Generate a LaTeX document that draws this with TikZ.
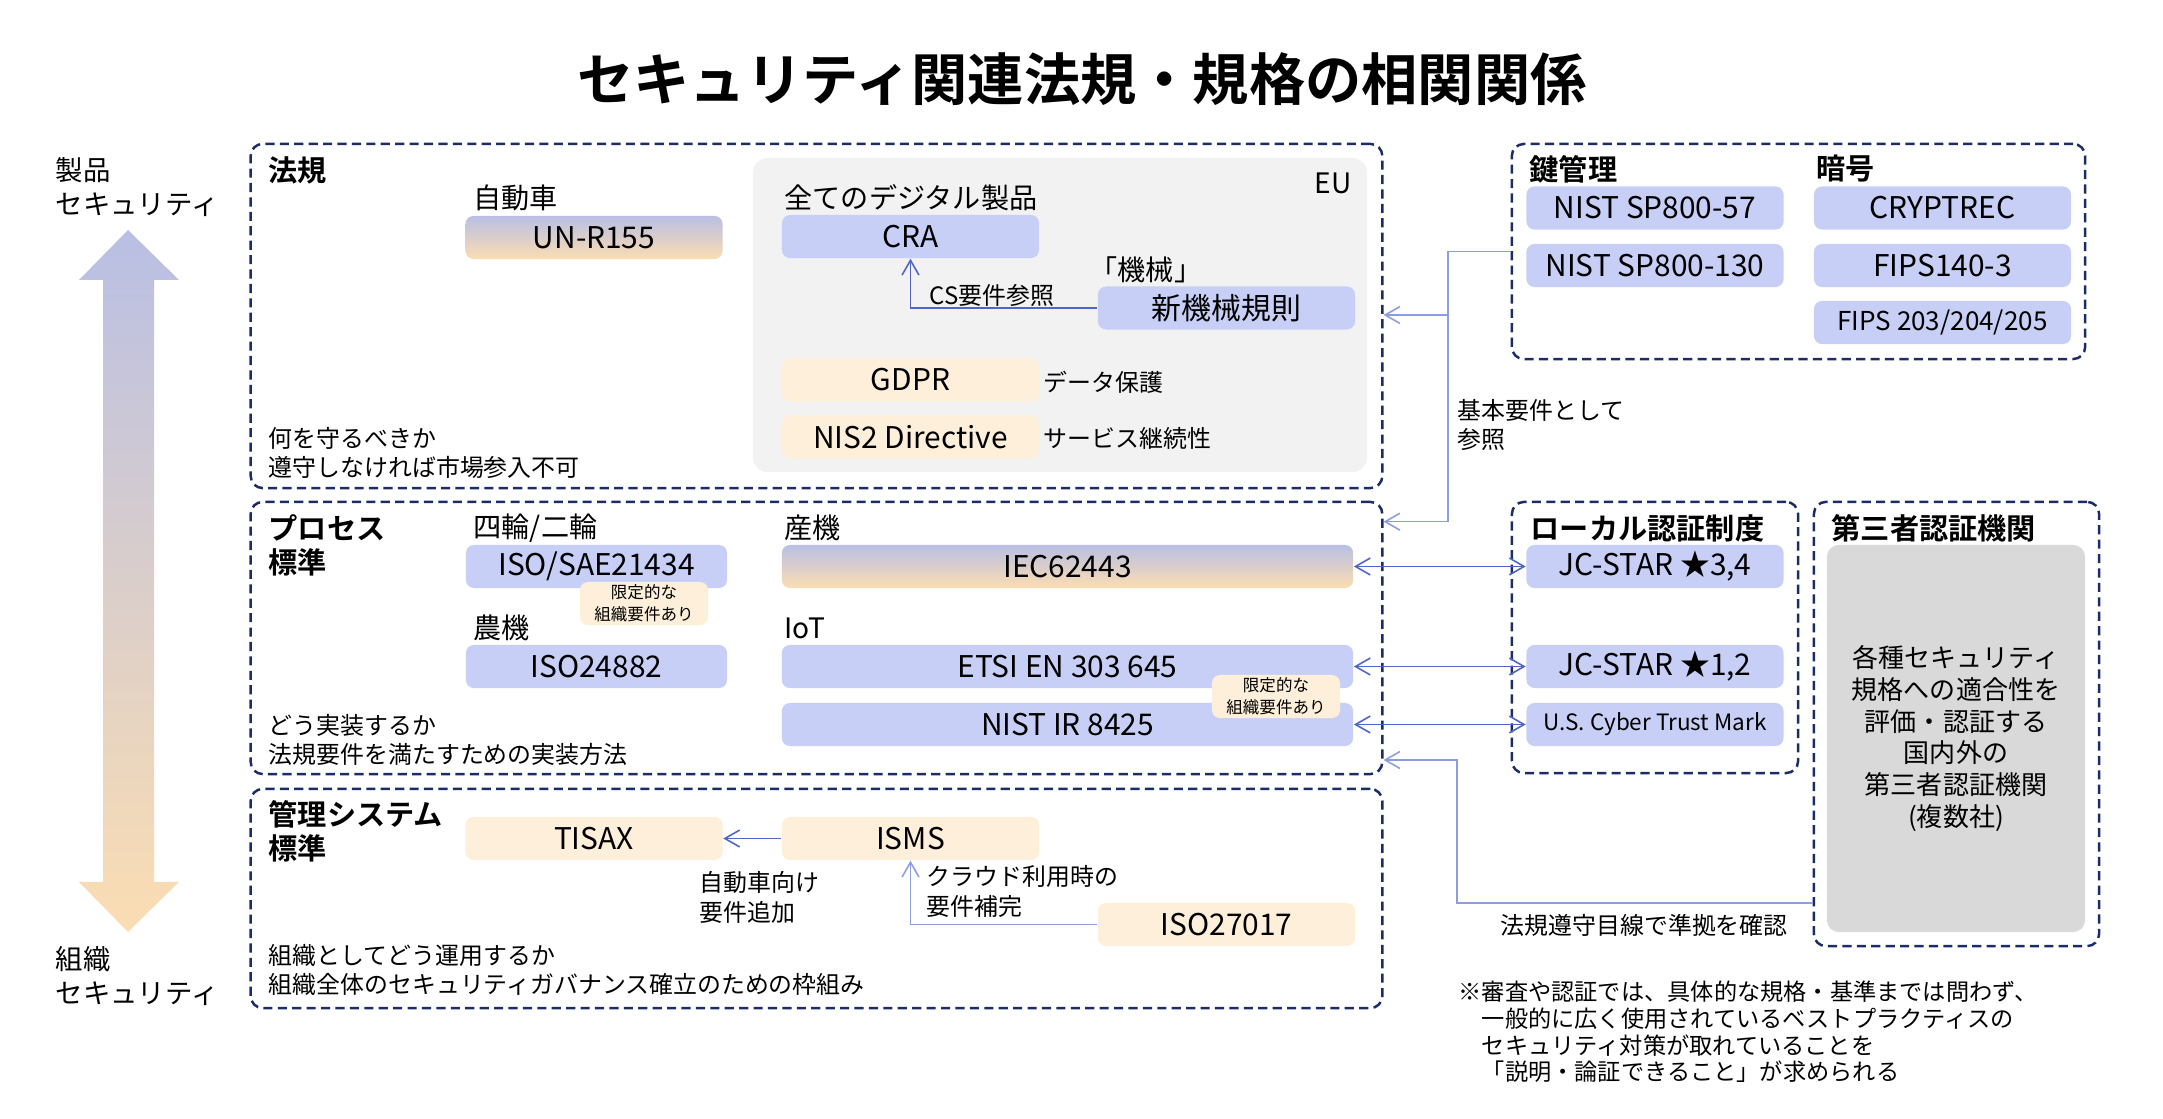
\documentclass[tikz,border=0pt]{standalone}
\usepackage{fontspec}
\setmainfont{Noto Sans CJK JP}[BoldFont={Noto Sans CJK JP Bold}]
\usepackage{tikz}
\usetikzlibrary{positioning,arrows.meta}

\definecolor{navy}{HTML}{1B2C66}
\definecolor{boxblue}{HTML}{C8CFF7}
\definecolor{peach}{HTML}{FDEFDA}
\definecolor{gradtop}{HTML}{B9BFE4}
\definecolor{gradbot}{HTML}{FBDDB2}
\definecolor{eugray}{HTML}{F2F2F2}
\definecolor{thirdgray}{HTML}{D9D9D9}
\definecolor{linkblue}{HTML}{4F66C8}
\definecolor{reflinkblue}{HTML}{8C9DE2}

\begin{document}
\begin{tikzpicture}[x=0.01cm,y=-0.01cm,
		>={Straight Barb[length=4.2pt,width=4.8pt]},
		grp/.style={draw=navy,line width=0.7pt,dash pattern=on 2.6pt off 1.5pt,rounded corners=0.12cm,inner sep=0pt},
		bluebox/.style={fill=boxblue,rounded corners=0.08cm,minimum width=2.57cm,minimum height=0.43cm,inner sep=0pt,font=\fontsize{8.5}{10}\selectfont},
		peachbox/.style={bluebox,fill=peach},
		gradbox/.style={bluebox,fill=none,top color=gradtop,bottom color=gradbot},
		tagbox/.style={fill=peach,rounded corners=0.08cm,minimum width=1.28cm,minimum height=0.43cm,inner sep=0pt,align=center,font=\fontsize{4.7}{6.2}\selectfont},
		head/.style={anchor=west,inner sep=0pt,align=left,font=\bfseries\fontsize{8.3}{9.6}\selectfont},
		lbl/.style={anchor=west,inner sep=0pt,align=left,font=\fontsize{8}{9.6}\selectfont},
		note/.style={anchor=west,inner sep=0pt,align=left,font=\fontsize{6.8}{8.5}\selectfont},
		link/.style={draw=linkblue,line width=0.45pt},
		reflink/.style={draw=reflinkblue,line width=0.45pt}]
	\useasboundingbox (0,0) rectangle (2163,1119);
	
	\node[font=\bfseries\fontsize{16}{19}\selectfont] (title) at (1082,79) {セキュリティ関連法規・規格の相関関係};
	
	\shade[top color=gradtop,bottom color=gradbot] (128,230) -- (179,280) -- (154,280) -- (154,882) -- (179,882) -- (128,932) -- (79,882) -- (103,882) -- (103,280) -- (79,280) -- cycle;
	\node[lbl,font=\fontsize{7.8}{9.9}\selectfont] (prodsec) at (55,187) {製品\\セキュリティ};
	\node[lbl,font=\fontsize{7.8}{9.9}\selectfont] (orgsec) at (55,976) {組織\\セキュリティ};
	
	\node[grp,minimum width=11.31cm,minimum height=3.44cm] (lawgrp) at (816.5,316) {};
	\node[grp,minimum width=11.31cm,minimum height=2.72cm] (procgrp) at (816.5,638) {};
	\node[grp,minimum width=11.31cm,minimum height=2.19cm] (mgmtgrp) at (816.5,898.5) {};
	\node[grp,minimum width=5.73cm,minimum height=2.15cm] (cryptgrp) at (1798.5,251.5) {};
	\node[grp,minimum width=2.86cm,minimum height=2.71cm] (localgrp) at (1655,637.5) {};
	\node[grp,minimum width=2.85cm,minimum height=4.44cm] (thirdgrp) at (1956.5,724) {};
	
	\node[fill=eugray,rounded corners=0.15cm,minimum width=6.14cm,minimum height=3.14cm,inner sep=0pt] (eupanel) at (1060,315) {};
	\node[lbl,anchor=east] (eu) at (1352,183) {EU};
	
	\node[head] (lawhead) at (268,170) {法規};
	\node[lbl] (carlbl) at (473,198) {自動車};
	\node[gradbox] (unr) at (594,237.5) {UN-R155};
	\node[lbl] (alldigital) at (784,198) {全てのデジタル製品};
	\node[bluebox] (cra) at (910.5,236.5) {CRA};
	\node[lbl] (machlbl) at (1089,270) {「機械」};
	\node[bluebox] (newmach) at (1226.5,308) {新機械規則};
	\node[peachbox] (gdpr) at (910.5,380) {GDPR};
	\node[note] (datalbl) at (1043,382) {データ保護};
	\node[peachbox] (nis) at (910.5,437) {NIS2 Directive};
	\node[note] (servlbl) at (1043,438) {サービス継続性};
	\node[note] (lawnote) at (268,453) {何を守るべきか\\遵守しなければ市場参入不可};
	\draw[link,->] (newmach.west) -| (cra.south);
	\node[note] (cslbl) at (929,295) {CS要件参照};
	
	\node[head] (keyhead) at (1529,169) {鍵管理};
	\node[head] (cryhead) at (1816,169) {暗号};
	\node[bluebox] (sp57) at (1655,208) {NIST SP800-57};
	\node[bluebox] (sp130) at (1655,265.5) {NIST SP800-130};
	\node[bluebox] (cryptrec) at (1942.5,208) {CRYPTREC};
	\node[bluebox] (fips140) at (1942.5,265.5) {FIPS140-3};
	\node[bluebox,font=\fontsize{7.4}{9}\selectfont] (fips203) at (1942.5,322.5) {FIPS 203/204/205};
	
	\node[head] (prochead) at (268,545) {プロセス\\標準};
	\node[lbl] (wheellbl) at (473,528) {四輪/二輪};
	\node[bluebox,minimum width=2.61cm] (sae) at (596.5,566.5) {ISO/SAE21434};
	\node[tagbox] (saetag) at (644,603.5) {限定的な\\組織要件あり};
	\node[lbl] (farmlbl) at (473,628) {農機};
	\node[bluebox,minimum width=2.61cm] (iso24882) at (596.5,666.5) {ISO24882};
	\node[lbl] (indlbl) at (784,528) {産機};
	\node[gradbox,minimum width=5.71cm] (iec) at (1067.5,566.5) {IEC62443};
	\node[lbl] (iotlbl) at (784,628) {IoT};
	\node[bluebox,minimum width=5.71cm] (etsi) at (1067.5,666.5) {ETSI EN 303 645};
	\node[bluebox,minimum width=5.71cm] (nistir) at (1067.5,724.5) {NIST IR 8425};
	\node[tagbox] (iottag) at (1276,696.5) {限定的な\\組織要件あり};
	\node[note] (procnote) at (268,740) {どう実装するか\\法規要件を満たすための実装方法};
	
	\node[head] (localhead) at (1530,528) {ローカル認証制度};
	\node[bluebox] (jc34) at (1655,566.5) {JC-STAR ★3,4};
	\node[bluebox] (jc12) at (1655,666.5) {JC-STAR ★1,2};
	\node[bluebox,font=\fontsize{6.4}{8}\selectfont] (usctm) at (1655,724.5) {U.S. Cyber Trust Mark};
	
	\node[head] (thirdhead) at (1831,528) {第三者認証機関};
	\node[fill=thirdgray,rounded corners=0.12cm,minimum width=2.58cm,minimum height=3.87cm,inner sep=0pt,align=center,font=\fontsize{7.4}{9}\selectfont] (thirdbody) at (1956,738.5) {各種セキュリティ\\規格への適合性を\\評価・認証する\\国内外の\\第三者認証機関\\(複数社)};
	
	\node[head] (mgmthead) at (268,831) {管理システム\\標準};
	\node[peachbox] (tisax) at (594,838.5) {TISAX};
	\node[peachbox] (isms) at (910.5,838.5) {ISMS};
	\node[peachbox] (iso27017) at (1226.5,924.5) {ISO27017};
	\draw[link,->] (isms.west) -- (tisax.east);
	\draw[reflink,->] (iso27017.west) -| (isms.south);
	\node[note] (carreq) at (699,897) {自動車向け\\要件追加};
	\node[note] (cloudreq) at (926,891) {クラウド利用時の\\要件補完};
	\node[note] (mgmtnote) at (268,970) {組織としてどう運用するか\\組織全体のセキュリティガバナンス確立のための枠組み};
	
	\coordinate (refjct) at (1448,315);
	\coordinate (chkjct) at (1457,760);
	\coordinate (chkbase) at (1457,903);
	\draw[reflink,->] (cryptgrp.west) -| (refjct) -- (refjct -| lawgrp.east);
	\draw[reflink,->] (refjct) |- ([yshift=-0.21cm]procgrp.north east);
	\node[note] (reflbl) at (1457,425) {基本要件として\\参照};
	\draw[link,<->] (iec.east) -- (jc34.west);
	\draw[link,<->] (etsi.east) -- (jc12.west);
	\draw[link,<->] (nistir.east) -- (usctm.west);
	\draw[reflink,->] (chkbase -| thirdgrp.west) -- (chkbase) -- (chkjct) -- (chkjct -| procgrp.east);
	\node[note] (chklbl) at (1500,925) {法規遵守目線で準拠を確認};
	
	\node[note,font=\fontsize{6.6}{7.6}\selectfont] (footnote) at (1458,1032) {※審査や認証では、具体的な規格・基準までは問わず、\\　一般的に広く使用されているベストプラクティスの\\　セキュリティ対策が取れていることを\\　「説明・論証できること」が求められる};
	
\end{tikzpicture}
\end{document}
